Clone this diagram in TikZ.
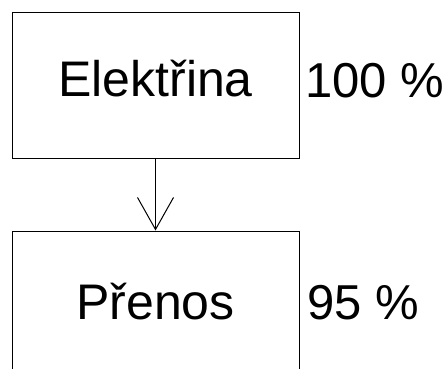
\documentclass[tikz,border=0pt]{standalone}
\usepackage{fontspec}
\setmainfont{Liberation Sans}
\usetikzlibrary{arrows.meta}

\begin{document}
\begin{tikzpicture}[x=1pt,y=-1pt,>={Straight Barb[length=32pt,width=36pt]},
  stage/.style={draw,line width=1pt,minimum width=287pt,minimum height=145pt,inner sep=0pt,
    font=\fontsize{50}{52}\selectfont,text height=57pt,text depth=36pt},
  share/.style={anchor=base west,inner sep=0pt,font=\fontsize{49}{52}\selectfont}]
\clip (0,0) rectangle (447,369);
\node[stage] (elec) at (155.5,85.5) {Elektřina};
\node[stage,text height=62pt,text depth=30pt] (tran) at (155.5,303.5) {Přenos};
\node[share] (elecpct) at (305,97) {100 \%};
\node[share] (tranpct) at (307,319) {95 \%};
\draw[->,line width=1pt] (elec) -- (tran);
\end{tikzpicture}
\end{document}
